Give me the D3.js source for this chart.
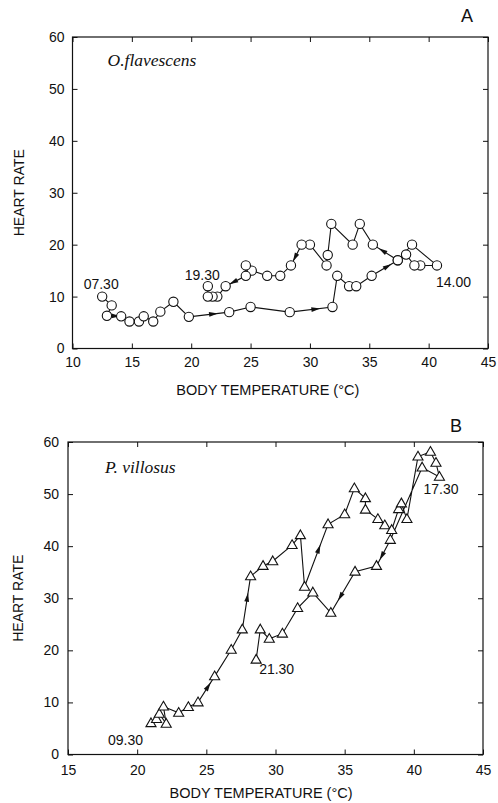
<!DOCTYPE html>
<html>
<head>
<meta charset="utf-8">
<script src="https://cdn.jsdelivr.net/npm/d3@7"></script>
<style>
	body { margin: 0; background: #fff; }
	svg { display: block; }
	text { font-family: Arial, "Liberation Sans", sans-serif; fill: #111; }
	.tick text { font-size: 14px; }
	.species { font-family: "Times New Roman", "Liberation Serif", serif; font-style: italic; font-size: 17.5px; }
</style>
</head>
<body>
<svg id="chart" width="498" height="803"></svg>
<script>
// panel A: O. flavescens (circles), path in time order
var aTemp = [12.5, 13.3, 12.9, 14.1, 14.8, 15.6, 16.0, 16.8, 17.4, 18.5, 19.8, 23.2, 25.0, 28.3, 31.9,
	32.3, 33.3, 33.9, 35.2, 37.4, 38.6, 40.7, 39.3, 38.8, 38.1, 37.4, 35.3, 34.2, 33.6, 31.8,
	31.5, 31.4, 30.0, 29.3, 28.4, 27.5, 26.4, 25.1, 24.6, 24.6, 22.9, 22.2, 21.8, 21.4, 21.4];
var aRate = [10, 8.3, 6.3, 6.2, 5.2, 5.2, 6.2, 5.2, 7.1, 9.0, 6.1, 7.0, 8.0, 7.0, 8.0,
	14, 12, 12, 14, 17, 20, 16, 16, 16, 18.1, 17, 20, 24, 20, 24,
	18, 16, 20, 20, 16, 14, 14, 15, 16, 14, 12, 10, 10, 10, 12];
var aArrows = [2, 10, 13, 18, 25, 33, 39];
var aTimes = [[0, "07.30"], [21, "14.00"], [44, "19.30"]];

// panel B: P. villosus (triangles)
var bTemp = [21.0, 21.4, 21.6, 22.1, 21.9, 23.0, 23.7, 24.4, 25.6, 26.8, 27.6, 28.2, 29.1, 29.8, 31.2,
	31.8, 32.1, 33.8, 35.0, 35.7, 36.5, 36.5, 37.4, 37.9, 38.4, 38.9, 39.1, 39.5, 40.3, 41.2,
	41.6, 41.85, 40.6, 38.3, 37.3, 35.75, 34.0, 32.7, 31.6, 30.5, 29.55, 28.9, 28.6];
var bRate = [6.0, 6.8, 7.8, 5.9, 9.2, 8.0, 9.1, 10.0, 15.0, 20.1, 24.0, 34.2, 36.2, 37.1, 40.2,
	42.1, 32.2, 44.2, 46.1, 51.1, 49.2, 47.0, 45.2, 44.0, 43.1, 47.1, 48.2, 45.2, 57.2, 58.1,
	56.0, 53.3, 55.1, 41.2, 36.2, 35.1, 27.2, 31.1, 28.1, 23.2, 22.2, 24.0, 18.2];
var bArrows = [7, 10, 16, 33, 35];
var bTimes = [[0, "09.30"], [31, "17.30"], [42, "21.30"]];

var xTicksA = [10, 15, 20, 25, 30, 35, 40, 45];
var xTicksB = [15, 20, 25, 30, 35, 40, 45];
var yTicks = [0, 10, 20, 30, 40, 50, 60];

var svg = d3.select('#chart');

function panel(cfg) {
	var x = d3.scaleLinear().domain([cfg.xTicks[0], cfg.xTicks[cfg.xTicks.length - 1]]).range([cfg.left, cfg.right]);
	var y = d3.scaleLinear().domain([0, 60]).range([cfg.bottom, cfg.top]);
	var g = svg.append('g');

	// inward ticks on all four sides
	g.append('g').attr('transform', 'translate(0,' + cfg.bottom + ')')
		.call(d3.axisBottom(x).tickValues(cfg.xTicks).tickSize(-5).tickSizeOuter(0).tickPadding(cfg.xPad));
	g.append('g').attr('transform', 'translate(0,' + cfg.top + ')')
		.call(d3.axisTop(x).tickValues(cfg.xTicks).tickSize(-5).tickSizeOuter(0).tickFormat(''));
	g.append('g').attr('transform', 'translate(' + cfg.left + ',0)')
		.call(d3.axisLeft(y).tickValues(yTicks).tickSize(-5).tickSizeOuter(0).tickPadding(cfg.yPad));
	g.append('g').attr('transform', 'translate(' + cfg.right + ',0)')
		.call(d3.axisRight(y).tickValues(yTicks).tickSize(-5).tickSizeOuter(0).tickFormat(''));
	g.selectAll('.domain').remove();
	g.selectAll('.tick line').attr('stroke', '#111');
	g.selectAll('.tick text').attr('fill', '#111');

	g.append('rect')
		.attr('x', cfg.left).attr('y', cfg.top)
		.attr('width', cfg.right - cfg.left).attr('height', cfg.bottom - cfg.top)
		.attr('fill', 'none').attr('stroke', '#111').attr('stroke-width', 1.2);

	var pts = cfg.temp.map(function(t, i) { return [x(t), y(cfg.rate[i])]; });

	g.append('path')
		.attr('d', d3.line()(pts))
		.attr('fill', 'none').attr('stroke', '#111').attr('stroke-width', 1.1);

	// direction arrows
	cfg.arrows.forEach(function(i) {
		var p0 = pts[i], p1 = pts[i + 1];
		var t = 0.6;
		var ang = Math.atan2(p1[1] - p0[1], p1[0] - p0[0]) * 180 / Math.PI;
		g.append('path')
			.attr('d', 'M5,0L-4,-2.4L-4,2.4Z')
			.attr('fill', '#111')
			.attr('transform', 'translate(' + (p0[0] + t * (p1[0] - p0[0])) + ',' + (p0[1] + t * (p1[1] - p0[1])) + ') rotate(' + ang + ')');
	});

	var sym = d3.symbol().type(cfg.symbol).size(cfg.symbolSize);
	g.selectAll('.pt').data(pts).enter().append('path')
		.attr('class', 'pt')
		.attr('d', sym)
		.attr('transform', function(d) { return 'translate(' + d[0] + ',' + (d[1] + cfg.symbolDy) + ')'; })
		.attr('fill', '#fff').attr('stroke', '#111').attr('stroke-width', 1.1);

	cfg.times.forEach(function(tm, k) {
		var p = pts[tm[0]], o = cfg.timeOffsets[k];
		g.append('text')
			.attr('x', p[0] + o[0]).attr('y', p[1] + o[1])
			.attr('text-anchor', o[2])
			.style('font-size', '14px')
			.text(tm[1]);
	});

	g.append('text').attr('class', 'species')
		.attr('x', cfg.left + cfg.speciesPos[0]).attr('y', cfg.top + cfg.speciesPos[1])
		.text(cfg.species);

	g.append('text')
		.attr('x', (cfg.left + cfg.right) / 2 + cfg.xTitleDx).attr('y', cfg.xTitleY)
		.attr('text-anchor', 'middle').style('font-size', '14.5px')
		.text('BODY TEMPERATURE (°C)');

	g.append('text')
		.attr('transform', 'translate(' + cfg.yTitleX + ',' + (cfg.top + cfg.bottom) / 2 + ') rotate(-90)')
		.attr('text-anchor', 'middle').style('font-size', '14px')
		.text('HEART RATE');

	g.append('text')
		.attr('x', cfg.letterPos[0]).attr('y', cfg.letterPos[1])
		.attr('text-anchor', 'middle').style('font-size', '18px')
		.text(cfg.letter);
}

panel({
	temp: aTemp, rate: aRate, arrows: aArrows, times: aTimes, xTicks: xTicksA,
	left: 72.5, right: 488, top: 37, bottom: 348.5,
	xPad: 9, yPad: 8,
	symbol: d3.symbolCircle, symbolSize: 68, symbolDy: 0,
	timeOffsets: [[-1, -8, 'middle'], [-1, 22, 'start'], [12, -6.5, 'end']],
	species: 'O.flavescens', speciesPos: [35, 29],
	xTitleDx: -12.5, xTitleY: 395, yTitleX: 24,
	letter: 'A', letterPos: [467, 22]
});

panel({
	temp: bTemp, rate: bRate, arrows: bArrows, times: bTimes, xTicks: xTicksB,
	left: 68, right: 483, top: 442, bottom: 754.5,
	xPad: 11, yPad: 9,
	symbol: d3.symbolTriangle, symbolSize: 44, symbolDy: 0.5,
	timeOffsets: [[-8, 22, 'end'], [-16, 17, 'start'], [3, 14, 'start']],
	species: 'P. villosus', speciesPos: [37, 31],
	xTitleDx: -14.5, xTitleY: 798, yTitleX: 23,
	letter: 'B', letterPos: [456, 432]
});
</script>
</body>
</html>
